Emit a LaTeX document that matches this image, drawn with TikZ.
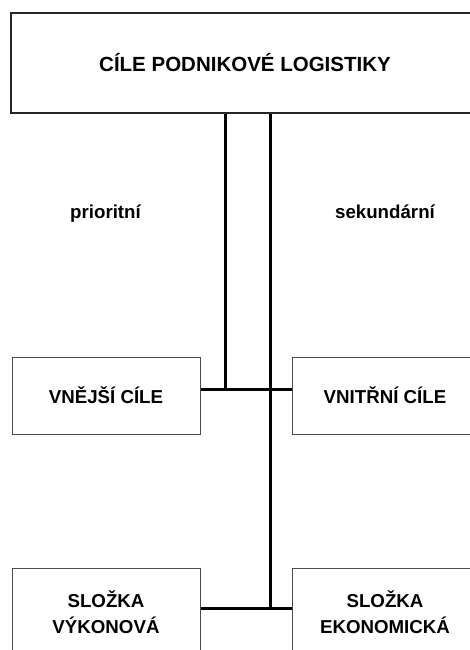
\documentclass[tikz,border=0pt]{standalone}
\usepackage{fontspec}
\setmainfont{Liberation Sans}

\begin{document}
\begin{tikzpicture}[x=1pt, y=-1pt,
    goal/.style = {draw=black!70, line width=1pt, align=center,
      font=\fontsize{18.7}{26}\selectfont\bfseries, inner sep=0pt},
    link/.style = {line width=3pt},
    tag/.style  = {font=\fontsize{18.7}{22}\selectfont\bfseries,
      anchor=base, inner sep=0pt}]
  \useasboundingbox (0,0) rectangle (470,650);
  \clip (0,0) rectangle (470,650);

  % goal boxes
  \node[goal, draw=black!85, line width=2pt, minimum width=468pt,
    minimum height=100pt, font=\fontsize{20.5}{26}\selectfont\bfseries]
    (main) at (245,63) {CÍLE PODNIKOVÉ LOGISTIKY};
  \node[goal, minimum width=188pt, minimum height=77pt] (outer) at (106,395.5) {VNĚJŠÍ CÍLE};
  \node[goal, minimum width=186pt, minimum height=77pt] (inner) at (385,395.5) {VNITŘNÍ CÍLE};
  \node[goal, minimum width=188pt, minimum height=88pt] (perf) at (106,612) {SLOŽKA\\VÝKONOVÁ};
  \node[goal, minimum width=186pt, minimum height=88pt] (econ) at (385,612) {SLOŽKA\\EKONOMICKÁ};

  \node[tag] (prio) at (105.5,218) {prioritní};
  \node[tag] (seku) at (385,218) {sekundární};

  % junctions
  \coordinate (j1) at (225,389);
  \coordinate (j2) at (270,389);
  \coordinate (j3) at (270,608);

  \draw[link] (main.south -| j1) -- (j1);
  \draw[link] (main.south -| j2) -- (j3);
  \draw[link] (outer.east |- j1) -- (inner.west |- j1);
  \draw[link] (perf.east |- j3) -- (econ.west |- j3);
\end{tikzpicture}
\end{document}
